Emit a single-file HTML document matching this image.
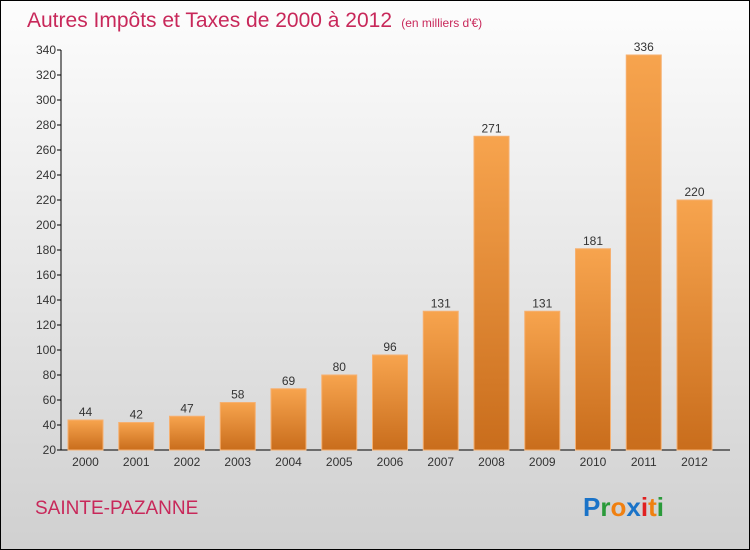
<!DOCTYPE html>
<html><head><meta charset="utf-8"><style>
body{margin:0}
#c{width:750px;height:550px;position:relative;box-sizing:border-box;border:1px solid #000;background:linear-gradient(#fdfdfd,#d0d0d0);font-family:"Liberation Sans",sans-serif;overflow:hidden}
</style></head><body>
<div id="c">
<svg width="750" height="550" style="position:absolute;left:-1px;top:-1px">
<defs><linearGradient id="g" x1="0" y1="0" x2="0" y2="1"><stop offset="0" stop-color="#f7a44e"/><stop offset="1" stop-color="#c96d1c"/></linearGradient></defs>
<text x="27" y="27" font-size="21" fill="#c8285a">Autres Impôts et Taxes de 2000 à 2012 <tspan font-size="12">&#160;(en milliers d'€)</tspan></text>
<g id="plot"></g>
<text x="35" y="514" font-size="19" fill="#c8285a">SAINTE-PAZANNE</text>
<text x="583" y="516" font-size="26" font-weight="bold"><tspan fill="#1a73c8">P</tspan><tspan fill="#2a9a3a">r</tspan><tspan fill="#f08010">o</tspan><tspan fill="#1a73c8">x</tspan><tspan fill="#e02020">i</tspan><tspan fill="#f08010">t</tspan><tspan fill="#2a9a3a">i</tspan></text>
</svg>
</div>
<script>
const years=["2000","2001","2002","2003","2004","2005","2006","2007","2008","2009","2010","2011","2012"];
const values=[44,42,47,58,69,80,96,131,271,131,181,336,220];
const ticks=[20,40,60,80,100,120,140,160,180,200,220,240,260,280,300,320,340];
const NS="http://www.w3.org/2000/svg";
const p=document.getElementById('plot');
const y=v=>450-(v-20)*1.25;
const x=i=>68+i*50.75;
function mk(t,a,par){const e=document.createElementNS(NS,t);for(const k in a)e.setAttribute(k,a[k]);(par||p).appendChild(e);return e;}
let ax=mk('line',{x1:61,y1:50,x2:61,y2:450,stroke:'#000'});


let bx=mk('line',{x1:61,y1:450,x2:730,y2:450,stroke:'#000'});


ticks.forEach(t=>{mk('line',{x1:57,y1:y(t),x2:61,y2:y(t),stroke:'#000'});
let l=mk('text',{x:56,y:y(t)+4,'font-size':12,'text-anchor':'end',fill:'#333'});l.textContent=t;

});
values.forEach((v,i)=>{
let r=mk('rect',{x:x(i),y:y(v),width:35,height:450-y(v),fill:'url(#g)',stroke:'#f6b070','stroke-width':1});


let t=mk('text',{x:x(i)+17.5,y:y(v)-4,'font-size':12,'text-anchor':'middle',fill:'#333'});t.textContent=v;


let xl=mk('text',{x:x(i)+17.5,y:466,'font-size':12,'text-anchor':'middle',fill:'#333'});xl.textContent=years[i];


});
</script>
</body></html>
